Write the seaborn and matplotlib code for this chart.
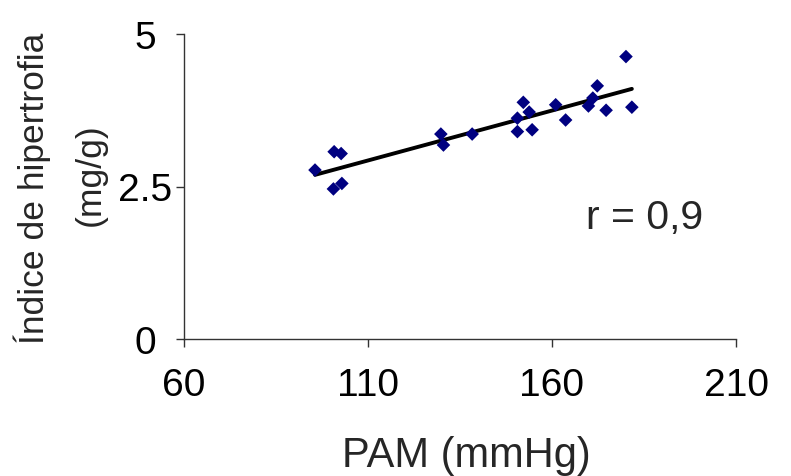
import matplotlib
matplotlib.use("Agg")
import matplotlib.pyplot as plt
import seaborn as sns
import pandas as pd

pam = [95.6, 100.8, 102.7, 100.6, 102.9, 129.8, 130.5, 138.3, 150.6, 150.6,
       152.2, 153.8, 154.6, 161.0, 163.7, 169.9, 171.1, 172.3, 174.7, 180.1, 181.7]
indice = [2.77, 3.07, 3.04, 2.46, 2.55, 3.36, 3.18, 3.36, 3.62, 3.40,
          3.88, 3.72, 3.43, 3.84, 3.59, 3.82, 3.95, 4.15, 3.75, 4.63, 3.80]
x_ticks = [60, 110, 160, 210]
y_ticks = [0, 2.5, 5]
y_tick_labels = ["0", "2.5", "5"]

df = pd.DataFrame({"PAM": pam, "Indice": indice})

sns.set_style("white")
plt.rcParams["font.family"] = ["Liberation Sans", "DejaVu Sans"]

W, H = 791, 477
fig = plt.figure(figsize=(W / 100, H / 100), dpi=100)
ax = fig.add_axes([184 / W, 1 - 340 / H, (736 - 184) / W, (340 - 35) / H])

sns.scatterplot(data=df, x="PAM", y="Indice", ax=ax, marker="D", s=48,
                color="#000080", edgecolor="none", zorder=3)
sns.regplot(data=df, x="PAM", y="Indice", ax=ax, scatter=False, ci=None,
            truncate=True, line_kws={"color": "black", "linewidth": 2.8, "zorder": 2})

ax.set_xlim(60, 210)
ax.set_ylim(0, 5)
ax.set_xticks(x_ticks)
ax.set_xticklabels([str(t) for t in x_ticks])
ax.set_yticks(y_ticks)
ax.set_yticklabels(y_tick_labels)
ax.tick_params(axis="both", direction="out", length=6, width=1, color="#333333",
               labelsize=28, labelcolor="black", bottom=True, left=True)
ax.tick_params(axis="x", pad=14)
ax.tick_params(axis="y", pad=22)
for lab in ax.get_yticklabels():
    lab.set_horizontalalignment("center")

for side in ["top", "right"]:
    ax.spines[side].set_visible(False)
for side in ["left", "bottom"]:
    ax.spines[side].set_color("#333333")
    ax.spines[side].set_linewidth(1)

ax.set_xlabel("")
ax.set_ylabel("")
fig.text(466 / W, 1 - 456 / H, "PAM (mmHg)", fontsize=30, ha="center", va="center")
fig.text(32 / W, 1 - 188 / H, "Índice de hipertrofia", fontsize=25.5, rotation=90,
         ha="center", va="center")
fig.text(90 / W, 1 - 175 / H, "(mg/g)", fontsize=25.5, rotation=90,
         ha="center", va="center")

ax.text(586 / W, 1 - 218 / H, "r = 0,9", transform=fig.transFigure, fontsize=29.5,
        ha="left", va="center")

fig.savefig("out.png", dpi=100)
